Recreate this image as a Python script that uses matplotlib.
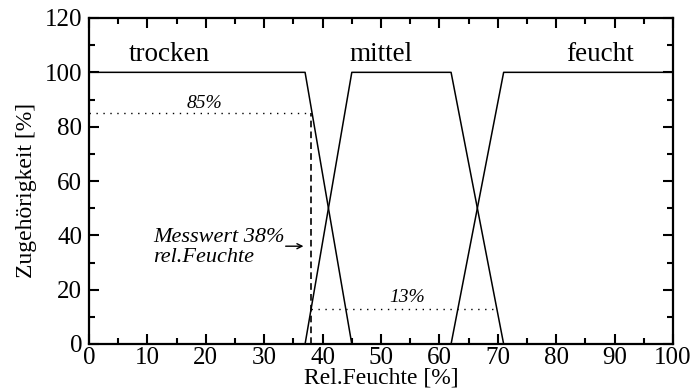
import matplotlib
matplotlib.use("Agg")
import matplotlib.pyplot as plt
from matplotlib.ticker import MultipleLocator

# Membership functions (x breakpoints in % rel. humidity, membership in %)
trocken_x = [0, 37, 45]
trocken_y = [100, 100, 0]
mittel_x = [37, 45, 62, 71]
mittel_y = [0, 100, 100, 0]
feucht_x = [62, 71, 100]
feucht_y = [0, 100, 100]

set_labels = ["trocken", "mittel", "feucht"]
set_label_x = [13.7, 50, 87.5]
set_label_y = 104

messwert = 38
mu_trocken = 85
mu_mittel = 13
mittel_dot_end = 70

plt.rcParams['font.family'] = ['Liberation Serif', 'DejaVu Serif']

fig = plt.figure(figsize=(6.94, 3.89), dpi=100)
ax = fig.add_axes([89/694, 45/389, 584/694, 326/389])

lw = 1.1
ax.plot(trocken_x, trocken_y, color='black', lw=lw)
ax.plot(mittel_x, mittel_y, color='black', lw=lw)
ax.plot(feucht_x, feucht_y, color='black', lw=lw)

ax.plot([0, messwert], [mu_trocken, mu_trocken], color='black', lw=1, ls=(0, (1, 4)))
ax.plot([messwert, messwert], [0, mu_trocken], color='black', lw=1.2, ls=(0, (4, 2.5)))
ax.plot([messwert, mittel_dot_end], [mu_mittel, mu_mittel], color='black', lw=1, ls=(0, (1, 4)))

for lab, x in zip(set_labels, set_label_x):
    ax.text(x, set_label_y, lab, ha='center', va='baseline', fontsize=19.5)

ax.text(19.7, 87, f"{mu_trocken}%", ha='center', va='baseline', fontsize=14, style='italic')
ax.text(54.4, 15.6, f"{mu_mittel}%", ha='center', va='baseline', fontsize=14, style='italic')
ax.text(11, 37.6, f"Messwert {messwert}%", ha='left', va='baseline', fontsize=16, style='italic')
ax.text(11, 30.3, "rel.Feuchte", ha='left', va='baseline', fontsize=16, style='italic')
ax.annotate("", xy=(37.2, 36), xytext=(33.2, 36),
            arrowprops=dict(arrowstyle='->', color='black', lw=1, mutation_scale=9))

ax.set_xlim(0, 100)
ax.set_ylim(0, 120)
ax.xaxis.set_major_locator(MultipleLocator(10))
ax.xaxis.set_minor_locator(MultipleLocator(5))
ax.yaxis.set_major_locator(MultipleLocator(20))
ax.yaxis.set_minor_locator(MultipleLocator(10))
ax.tick_params(which='both', direction='in', top=True, right=True, width=1.5)
ax.tick_params(which='major', length=7, labelsize=18)
ax.tick_params(which='minor', length=4)
ax.tick_params(axis='x', pad=2)
ax.tick_params(axis='y', pad=5)
for s in ax.spines.values():
    s.set_linewidth(1.6)

ax.set_xlabel("Rel.Feuchte [%]", fontsize=17)
ax.xaxis.set_label_coords(0.5, -0.072, transform=ax.transAxes)
ax.xaxis.label.set_va('top')
ax.set_ylabel("Zugehörigkeit [%]", fontsize=17)
ax.yaxis.set_label_coords(-0.089, 0.47, transform=ax.transAxes)

fig.savefig("out.png", dpi=100)
